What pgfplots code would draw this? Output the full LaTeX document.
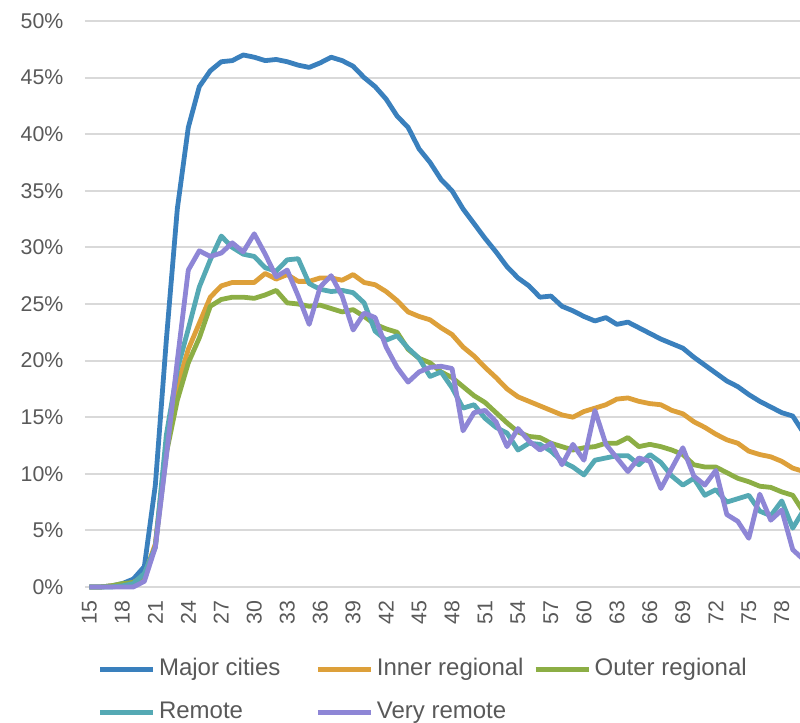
\documentclass[border=0pt]{standalone}
\usepackage{pgfplots}
\pgfplotsset{compat=1.18}
\usepackage{pgfplotstable}
\usepackage{fontspec}
\setmainfont{Liberation Sans}

\definecolor{cMajor}{HTML}{3A80BD}
\definecolor{cInner}{HTML}{DDA03A}
\definecolor{cOuter}{HTML}{8CAE45}
\definecolor{cRemote}{HTML}{55A9B4}
\definecolor{cVRemote}{HTML}{8E86D6}
\definecolor{gridgray}{HTML}{D9D9D9}
\definecolor{textgray}{HTML}{595959}

% share (%) by age
\pgfplotstableread{
age major inner outer remote vremote
15 0.0 0.0 0.0 0.0 0.0
16 0.0 0.0 0.0 0.0 0.0
17 0.1 0.1 0.1 0.0 0.0
18 0.3 0.2 0.3 0.1 0.0
19 0.7 0.4 0.4 0.3 0.0
20 1.8 1.0 0.9 1.2 0.5
21 9.0 3.8 3.6 3.5 3.5
22 21.8 12.5 11.8 13.4 11.5
23 33.4 17.8 16.5 19.2 20.0
24 40.6 21.0 19.8 22.8 28.0
25 44.2 23.3 22.0 26.5 29.7
26 45.6 25.6 24.8 28.9 29.2
27 46.4 26.6 25.4 31.0 29.5
28 46.5 26.9 25.6 30.0 30.4
29 47.0 26.9 25.6 29.4 29.6
30 46.8 26.9 25.5 29.2 31.2
31 46.5 27.7 25.8 28.2 29.4
32 46.6 27.2 26.2 27.9 27.4
33 46.4 27.6 25.1 28.9 28.0
34 46.1 27.0 25.0 29.0 25.7
35 45.9 27.0 24.8 26.8 23.2
36 46.3 27.3 24.9 26.3 26.5
37 46.8 27.3 24.6 26.1 27.5
38 46.5 27.1 24.3 26.2 25.7
39 46.0 27.6 24.5 26.0 22.7
40 45.0 26.9 23.9 25.1 24.2
41 44.2 26.7 23.2 22.6 23.8
42 43.1 26.1 22.8 21.8 21.2
43 41.6 25.3 22.5 22.2 19.4
44 40.6 24.3 21.0 21.1 18.1
45 38.7 23.9 20.2 20.2 19.0
46 37.5 23.6 19.8 18.6 19.4
47 36.0 22.9 19.0 19.0 19.5
48 35.0 22.3 18.5 17.6 19.3
49 33.4 21.2 17.7 15.8 13.8
50 32.1 20.4 16.9 16.1 15.4
51 30.8 19.4 16.3 14.9 15.6
52 29.6 18.5 15.4 14.1 14.6
53 28.3 17.5 14.5 13.6 12.4
54 27.3 16.8 13.7 12.1 14.0
55 26.6 16.4 13.3 12.7 12.9
56 25.6 16.0 13.2 12.6 12.1
57 25.7 15.6 12.7 12.0 12.7
58 24.8 15.2 12.4 11.1 10.8
59 24.4 15.0 12.1 10.6 12.6
60 23.9 15.5 12.3 9.9 11.2
61 23.5 15.8 12.4 11.2 15.6
62 23.8 16.1 12.7 11.4 12.6
63 23.2 16.6 12.7 11.6 11.4
64 23.4 16.7 13.2 11.6 10.2
65 22.9 16.4 12.4 10.8 11.4
66 22.4 16.2 12.6 11.7 11.1
67 21.9 16.1 12.4 11.0 8.7
68 21.5 15.6 12.1 9.8 10.5
69 21.1 15.3 11.7 9.0 12.3
70 20.3 14.6 10.8 9.6 9.8
71 19.6 14.1 10.6 8.1 9.0
72 18.9 13.5 10.6 8.6 10.3
73 18.2 13.0 10.1 7.5 6.4
74 17.7 12.7 9.6 7.8 5.8
75 17.0 12.0 9.3 8.1 4.3
76 16.4 11.7 8.9 6.7 8.2
77 15.9 11.5 8.8 6.3 5.9
78 15.4 11.1 8.4 7.6 6.8
79 15.1 10.5 8.1 5.2 3.3
80 13.6 10.2 6.6 6.8 2.4
}\rates

\newcommand{\lentry}[1]{\makebox[117.25pt][l]{#1}}

\begin{document}
\begin{tikzpicture}
\begin{axis}[
  name=ax,
  scale only axis,
  width=536.25pt, height=424.5pt,
  xmin=14.6, xmax=79.66,
  ymin=0, ymax=50,
  xtick={15,18,...,78},
  ytick={0,5,...,50},
  ymajorgrids,
  grid style={line width=1.5pt, color=gridgray},
  axis line style={draw=none},
  major tick length=0pt,
  tick label style={font=\fontsize{16}{18}\selectfont, text=textgray},
  /pgf/number format/assume math mode=true,
  yticklabel={\pgfmathprintnumber{\tick}\%},
  yticklabel style={anchor=east, inner ysep=0pt, inner xsep=16pt},
  xticklabel style={rotate=90, anchor=east, inner ysep=0pt, inner xsep=10pt},
  clip=false,
  legend columns=3,
  legend cell align=left,
  legend style={draw=none, fill=none, at={(0,0)}, anchor=north west,
    xshift=9.25pt, yshift=-53pt, inner sep=0pt,
    font=\fontsize{18}{21}\selectfont, text=textgray,
    nodes={inner xsep=0pt, inner ysep=0pt, text height=13pt, text depth=4pt},
    row sep=15.25pt,
    /tikz/every odd column/.append style={column sep=2.5pt}},
  legend image code/.code={\draw[#1, line width=3.6pt] (0pt,0pt) -- (40pt,0pt);},
  every axis plot/.append style={line width=3.6pt, line join=round, mark=none},
]
\addplot[cMajor] table[x=age, y=major] {\rates};
\addlegendentry{\lentry{Major cities}}
\addplot[cInner] table[x=age, y=inner] {\rates};
\addlegendentry{\lentry{Inner regional}}
\addplot[cOuter] table[x=age, y=outer] {\rates};
\addlegendentry{\lentry{Outer regional}}
\addplot[cRemote] table[x=age, y=remote] {\rates};
\addlegendentry{\lentry{Remote}}
\addplot[cVRemote] table[x=age, y=vremote] {\rates};
\addlegendentry{\lentry{Very remote}}
\end{axis}
\pgfresetboundingbox
\path[use as bounding box] ([xshift=-63.75pt, yshift=-102pt]ax.south west) rectangle ([yshift=15.75pt]ax.north east);
\end{tikzpicture}
\end{document}
